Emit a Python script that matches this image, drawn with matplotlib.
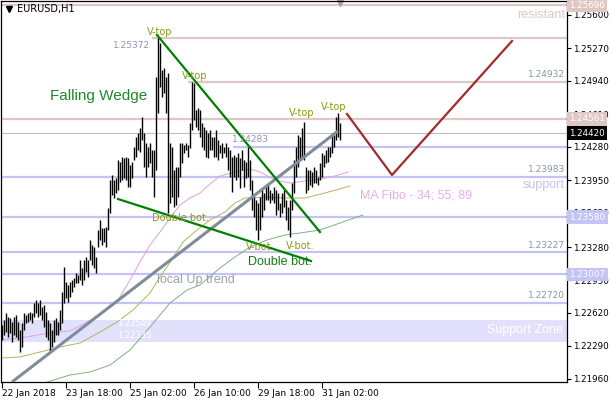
import matplotlib
matplotlib.use("Agg")
import matplotlib.pyplot as plt
import matplotlib.transforms as mtransforms

# H1 bars, EURUSD (high / low), index 0 = first visible bar
highs = [1.2250, 1.2255, 1.2262, 1.2258, 1.2257, 1.2253, 1.2258, 1.2260, 1.2253, 1.2245,
         1.2252, 1.2262, 1.2260, 1.2262, 1.2263, 1.2262, 1.2272, 1.2275, 1.2272, 1.2275,
         1.2268, 1.2270, 1.2263, 1.2255, 1.2252, 1.2245, 1.2255, 1.2257, 1.2253, 1.2265,
         1.2283, 1.2308, 1.2293, 1.2290, 1.2293, 1.2295, 1.2297, 1.2302, 1.2300, 1.2315,
         1.2307, 1.2315, 1.2318, 1.2315, 1.2335, 1.2330, 1.2328, 1.2318, 1.2345, 1.2355,
         1.2347, 1.2347, 1.2348, 1.2367, 1.2395, 1.2400, 1.2395, 1.2397, 1.2415,
         1.2413, 1.2418, 1.2417, 1.2418, 1.2417, 1.2410, 1.2413, 1.2428, 1.2438, 1.2442,
         1.2447, 1.2458, 1.2442, 1.2432, 1.2428, 1.2432, 1.2425, 1.2425, 1.2498, 1.2537,
         1.2532, 1.2505, 1.2507, 1.2498, 1.2502, 1.2432, 1.2428, 1.2405, 1.2408, 1.2408,
         1.2432, 1.2432, 1.2430, 1.2432, 1.2430, 1.2452, 1.2493, 1.2492, 1.2465, 1.2467,
         1.2465, 1.2452, 1.2448, 1.2445, 1.2442, 1.2445, 1.2438, 1.2438, 1.2445, 1.2435,
         1.2430, 1.2432, 1.2428, 1.2432, 1.2428,
         1.2425, 1.2418, 1.2420, 1.2418, 1.2422, 1.2417, 1.2425, 1.2415, 1.2413, 1.2428,
         1.2415, 1.2395, 1.2378, 1.2375, 1.2372, 1.2378, 1.2385, 1.2382, 1.2388, 1.2390,
         1.2385, 1.2382, 1.2388, 1.2385, 1.2382, 1.2372, 1.2382, 1.2385, 1.2375, 1.2368,
         1.2375, 1.2392, 1.2415, 1.2428, 1.2440, 1.2438, 1.2447, 1.2453, 1.2408, 1.2405,
         1.2405, 1.2403, 1.2408, 1.2405, 1.2398, 1.2412, 1.2422, 1.2420, 1.2425, 1.2428,
         1.2428, 1.2442, 1.2440, 1.2458, 1.2462, 1.2452]
lows = [1.2235, 1.2240, 1.2243, 1.2238, 1.2242, 1.2233, 1.2240, 1.2238, 1.2235, 1.2223,
        1.2228, 1.2245, 1.2252, 1.2253, 1.2255, 1.2252, 1.2258, 1.2262, 1.2258, 1.2260,
        1.2255, 1.2248, 1.2238, 1.2235, 1.2222, 1.2228, 1.2233, 1.2240, 1.2240, 1.2245,
        1.2252, 1.2272, 1.2277, 1.2273, 1.2278, 1.2283, 1.2288, 1.2292, 1.2292, 1.2295,
        1.2290, 1.2295, 1.2303, 1.2298, 1.2315, 1.2310, 1.2307, 1.2302, 1.2328, 1.2335,
        1.2330, 1.2333, 1.2328, 1.2345, 1.2362, 1.2380, 1.2377, 1.2382, 1.2385,
        1.2393, 1.2395, 1.2397, 1.2395, 1.2388, 1.2388, 1.2397, 1.2415, 1.2418, 1.2425,
        1.2423, 1.2435, 1.2408, 1.2398, 1.2408, 1.2412, 1.2398, 1.2378, 1.2405, 1.2462,
        1.2488, 1.2478, 1.2482, 1.2462, 1.2362, 1.2372, 1.2378, 1.2368, 1.2370, 1.2378,
        1.2398, 1.2412, 1.2422, 1.2425, 1.2418, 1.2427, 1.2445, 1.2455, 1.2448, 1.2445,
        1.2438, 1.2428, 1.2425, 1.2418, 1.2417, 1.2425, 1.2425, 1.2418, 1.2418, 1.2415,
        1.2422, 1.2417, 1.2422, 1.2418, 1.2405,
        1.2398, 1.2383, 1.2398, 1.2395, 1.2398, 1.2387, 1.2405, 1.2388, 1.2397, 1.2398,
        1.2385, 1.2365, 1.2358, 1.2345, 1.2335, 1.2345, 1.2358, 1.2365, 1.2375, 1.2375,
        1.2372, 1.2375, 1.2372, 1.2360, 1.2365, 1.2358, 1.2362, 1.2368, 1.2355, 1.2345,
        1.2338, 1.2365, 1.2382, 1.2398, 1.2408, 1.2415, 1.2418, 1.2415, 1.2382, 1.2385,
        1.2390, 1.2388, 1.2392, 1.2392, 1.2390, 1.2395, 1.2398, 1.2408, 1.2412, 1.2413,
        1.2418, 1.2422, 1.2428, 1.2435, 1.2438, 1.2435]
last_price = 1.24420

# moving averages (MA Fibo 34 / 55 / 89)
ma34_x = [0, 9, 24, 34, 39, 49, 57.5, 64, 69, 74, 79, 84, 89, 94, 99, 104, 109, 116.5, 124,
          129, 136.5, 144, 151.5, 159, 166.5, 173]
ma34_y = [1.2235, 1.2237, 1.2242, 1.2244, 1.2249, 1.2260, 1.2273, 1.2295, 1.2313, 1.2330,
          1.2343, 1.2357, 1.2370, 1.2377, 1.2382, 1.2391, 1.2399, 1.2403, 1.2406, 1.2403,
          1.2395, 1.2392, 1.2394, 1.2396, 1.2399, 1.2403]
ma55_x = [0, 9, 19, 29, 39, 49, 57.5, 65.5, 74, 79, 85.5, 90.5, 97.5, 104, 111.5, 116.5,
          121.5, 131.5, 141.5, 151.5, 161.5, 174]
ma55_y = [1.2217, 1.2218, 1.2223, 1.2228, 1.2232, 1.2243, 1.2253, 1.2265, 1.2282, 1.2298,
          1.2317, 1.2333, 1.2345, 1.2355, 1.2363, 1.2372, 1.2377, 1.2378, 1.2377, 1.2377,
          1.2382, 1.2389]
ma89_x = [22.5, 34, 44, 54, 64, 74, 84, 92.5, 99, 109, 116.5, 124, 132.5, 141.5, 149, 159,
          169, 180.5]
ma89_y = [1.2193, 1.2200, 1.2203, 1.2210, 1.2225, 1.2248, 1.2272, 1.2285, 1.2290, 1.2307,
          1.2318, 1.2328, 1.2335, 1.2340, 1.2342, 1.2345, 1.2352, 1.2360]

# horizontal levels: (price, start bar)
resist_levels = [1.25696, 1.25372, 1.24932, 1.24561]
resist_start = [-1, 75, 93, -1]
support_levels = [1.24283, 1.23983, 1.23580, 1.23227, 1.23007, 1.22720]
support_start = [115.5, -1, -1, -1, -1, -1]
zone_low, zone_high = 1.22335, 1.22549

# drawn objects
wedge_top_x, wedge_top_y = [77.5, 159], [1.2540, 1.2343]
wedge_bot_x, wedge_bot_y = [58, 154.5], [1.2376, 1.2314]
trend_x, trend_y = [5, 168], [1.2193, 1.2444]
path_x, path_y = [172.5, 195, 255], [1.2461, 1.2400, 1.2534]

yticks = [1.21960, 1.22290, 1.22620, 1.22950, 1.23280, 1.23620, 1.23950, 1.24280,
          1.24610, 1.24940, 1.25270, 1.25600]
xtick_pos = [0, 32, 64, 96, 128, 160]
xtick_lab = ["22 Jan 2018", "23 Jan 18:00", "25 Jan 02:00", "26 Jan 10:00",
             "29 Jan 18:00", "31 Jan 02:00"]

RES_C = "#dfc8c3"
SUP_C = "#c3c3f6"
ZONE_C = "#e1e1fc"
TXT_GREY = "#8a98a8"
OLIVE = "#8c9a12"

fig = plt.figure(figsize=(6.1, 4.0), dpi=100)
ax = fig.add_axes([1 / 610, 18 / 400, 566 / 610, 381 / 400])
ax.set_xlim(-0.5, 282.5)
ax.set_ylim(1.2193, 1.2574)

# levels
ax.axhspan(zone_low, zone_high, color=ZONE_C, lw=0, zorder=0)
for lv, st in zip(resist_levels, resist_start):
    ax.hlines(lv, st, 283, color=RES_C, lw=1.6, zorder=1)
for lv, st in zip(support_levels, support_start):
    ax.hlines(lv, st, 283, color=SUP_C, lw=1.6, zorder=1)
ax.axhline(last_price, color="#c0c0c0", lw=0.8, zorder=1)

# MAs
ax.plot(ma34_x, ma34_y, color="#e0a0e0", lw=0.7, zorder=2)
ax.plot(ma55_x, ma55_y, color="#b8b060", lw=0.7, zorder=2)
ax.plot(ma89_x, ma89_y, color="#80b080", lw=0.7, zorder=2)

# bars
idx = list(range(len(highs)))
ax.vlines(idx, lows, highs, color="black", lw=1.0, zorder=3)

# drawings
ax.plot(trend_x, trend_y, color="#7f8c9a", lw=2.2, zorder=4, solid_capstyle="butt")
ax.plot(wedge_top_x, wedge_top_y, color="#008000", lw=1.6, zorder=4)
ax.plot(wedge_bot_x, wedge_bot_y, color="#008000", lw=1.6, zorder=4)
ax.plot(path_x, path_y, color="#a52a2a", lw=1.6, zorder=4)

# texts
ax.plot([3.5], [1.2566], marker="v", color="black", ms=4, clip_on=False)
ax.text(7.5, 1.2566, "EURUSD,H1", fontsize=7, va="center", ha="left", color="black")
ax.text(24, 1.2479, "Falling Wedge", fontsize=11, family="Liberation Sans",
        color="#1c8a2a", va="center", ha="left")
for tx, ty in [(79, 1.2543), (96.5, 1.2499), (150, 1.2462), (166, 1.2468)]:
    ax.text(tx, ty, "V-top", fontsize=7, color=OLIVE, ha="center", va="center", zorder=5)
ax.text(89, 1.2357, "Double bot.", fontsize=7, color=OLIVE, ha="center", va="center", zorder=5)
for tx, ty in [(129, 1.2328), (149, 1.2329)]:
    ax.text(tx, ty, "V-bot.", fontsize=7, color=OLIVE, ha="center", va="center", zorder=5)
ax.text(139, 1.2313, "Double bot.", fontsize=9, family="Liberation Sans",
        color="#1a7a1a", ha="center", va="center", zorder=5)
ax.text(77.5, 1.2295, "local Up trend", fontsize=9, family="Liberation Sans",
        color="#9aa0a8", ha="left", va="center", zorder=5)
ax.text(179, 1.2379, "MA Fibo - 34; 55; 89", fontsize=9, family="Liberation Sans",
        color="#e6b0e6", ha="left", va="center")
ax.text(281.5, 1.2560, "resistant", fontsize=9, family="Liberation Sans",
        color=RES_C, ha="right", va="center")
ax.text(281.5, 1.2390, "support", fontsize=9, family="Liberation Sans",
        color=SUP_C, ha="right", va="center")
ax.text(280.5, 1.2245, "Support Zone", fontsize=9, family="Liberation Sans",
        color="white", ha="right", va="center")

# level price tags on the chart
def tag(x, lv, ha, va, color=TXT_GREY, dy=None, size=6.5):
    if dy is None:
        dy = 2 if va == "bottom" else -2
    ax.annotate(f"{lv:.5f}", (x, lv), xytext=(0, dy), textcoords="offset points",
                fontsize=size, color=color, ha=ha, va=va, zorder=5)

tag(74, resist_levels[1], "right", "top")
tag(281.5, resist_levels[2], "right", "bottom")
tag(115, support_levels[0], "left", "bottom")
tag(281.5, support_levels[1], "right", "bottom")
tag(281.5, support_levels[3], "right", "bottom")
tag(281.5, support_levels[5], "right", "bottom")
tag(57.5, zone_high, "left", "center", "white", dy=-2.2, size=6)
tag(57.5, zone_low, "left", "center", "white", dy=4.6, size=6)

# axes styling
ax.yaxis.tick_right()
ax.set_yticks(yticks)
ax.set_yticklabels([f"{t:.5f}" for t in yticks])
ax.tick_params(axis="y", direction="out", length=3, width=0.8, labelsize=6.3, pad=1.5)
ax.set_xticks(xtick_pos)
ax.set_xticklabels(xtick_lab, ha="left")
ax.tick_params(axis="x", direction="out", length=4, width=0.8, labelsize=6.5, pad=1)
for s in ax.spines.values():
    s.set_linewidth(0.9)

# right-side boxed price labels
btr = mtransforms.blended_transform_factory(ax.transAxes, ax.transData)
boxes = [(resist_levels[0], RES_C), (resist_levels[3], RES_C), (last_price, "black"),
         (support_levels[2], SUP_C), (support_levels[4], SUP_C)]
for lv, c in boxes:
    ax.text(1.004, lv, f"{lv:.5f}", transform=btr, fontsize=6.3, color="white",
            ha="left", va="center", clip_on=False, zorder=10,
            bbox=dict(boxstyle="square,pad=0.25", fc=c, ec="none"))

# chart shift marker
ax.plot([169], [1.2572], marker="v", color="#a0a0a0", ms=5, clip_on=False)

fig.savefig("out.png", dpi=100)
